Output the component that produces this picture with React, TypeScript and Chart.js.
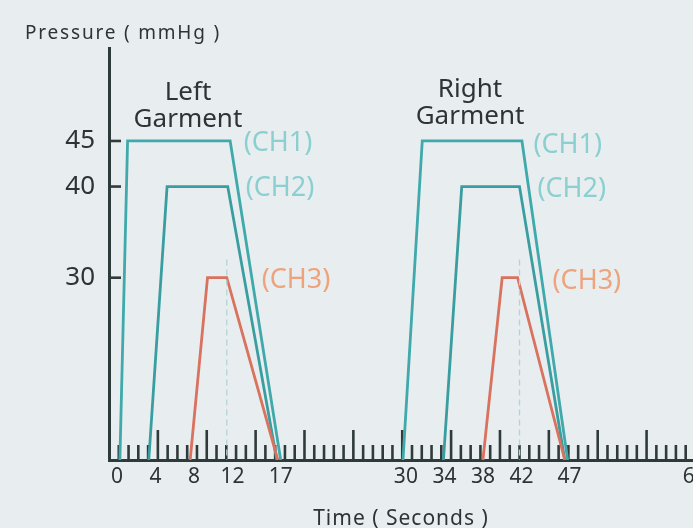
import React, { useEffect, useRef } from 'react';
import { Chart, registerables, LinearScale } from 'chart.js';

// ---- data (seconds / mmHg) ----
const CH1_TIME = [0.3, 1.1, 11.75, 17.0, 23, 29.7, 31.7, 42.05, 46.8];
const CH1_PRESSURE = [0, 45, 45, 0, null, 0, 45, 45, 0];
const CH2_TIME = [3.3, 5.2, 11.5, 16.6, 23, 33.9, 35.8, 41.8, 46.5];
const CH2_PRESSURE = [0, 40, 40, 0, null, 0, 40, 40, 0];
const CH3_TIME = [7.6, 9.4, 11.4, 16.7, 23, 38.0, 40.0, 41.6, 46.5];
const CH3_PRESSURE = [0, 30, 30, 0, null, 0, 30, 30, 0];
const PEAK_TIME = [11.4, 11.4, 23, 41.8, 41.8];
const PEAK_PRESSURE = [32, 0, null, 32, 0];

const X_TICKS = [0, 4, 8, 12, 17, 30, 34, 38, 42, 47, 60];
const Y_TICKS = [30, 40, 45];
const CHANNEL_NAMES = ['(CH1)', '(CH2)', '(CH3)'];
const GARMENT_NAMES = [['Left', 'Garment'], ['Right', 'Garment']];
const X_TITLE = 'Time ( Seconds )';
const Y_TITLE = 'Pressure ( mmHg )';

// ---- layout / style ----
const X_MIN = -0.83;
const X_MAX = 62.1;
const Y_MIN = 10;
const Y_MAX = 55.2;
const RULER_START = -0.83;
const RULER_STEP = 1.015;

const CH_COLORS = ['#3fa9ab', '#3a9da0', '#d9725e'];
const CH_LABEL_COLORS = ['#8ccfd1', '#8ccfd1', '#eea37c'];
const AXIS_COLOR = '#2f3b3b';
const TEXT_COLOR = '#2e3434';
const BG = '#e8eef0';

// label anchors in data units [time, pressure]
const CH_LABEL_POS = [
  [[16.72, 44.7], [16.93, 39.8], [18.59, 29.7]],
  [[46.81, 44.5], [47.23, 39.7], [48.79, 29.6]],
];
const GARMENT_POS = [
  { x: 7.37, y1: 49.5, y2: 46.53 },
  { x: 36.66, y1: 49.82, y2: 46.86 },
];

class ClampedLinearScale extends LinearScale {
  static id = 'clampedLinear';
  static defaults = LinearScale.defaults;
  getPixelForValue(value: any) {
    const v = typeof value === 'number' && value < (this as any).min ? (this as any).min : value;
    return super.getPixelForValue(v);
  }
}

Chart.register(...registerables, ClampedLinearScale as any);

const toPoints = (xs: number[], ys: (number | null)[]) =>
  xs.map((x, i) => ({ x, y: ys[i] }));

const decorPlugin = {
  id: 'decor',
  beforeDatasetsDraw(chart: any) {
    const { ctx, chartArea } = chart;
    const x = chart.scales.x;
    const y = chart.scales.y;
    ctx.save();
    ctx.strokeStyle = AXIS_COLOR;
    ctx.lineWidth = 2.6;
    for (let k = 1; k < 200; k++) {
      const px = x.getPixelForValue(RULER_START + k * RULER_STEP);
      if (px > chartArea.right) break;
      const len = k % 5 === 0 ? 30 : 15;
      ctx.beginPath();
      ctx.moveTo(px, chartArea.bottom);
      ctx.lineTo(px, chartArea.bottom - len);
      ctx.stroke();
    }
    for (const v of Y_TICKS) {
      const py = y.getPixelForValue(v);
      ctx.beginPath();
      ctx.moveTo(chartArea.left, py);
      ctx.lineTo(chartArea.left + 12, py);
      ctx.stroke();
    }
    ctx.restore();
  },
  afterDraw(chart: any) {
    const { ctx, chartArea } = chart;
    const x = chart.scales.x;
    const y = chart.scales.y;
    ctx.save();
    // garment titles
    ctx.fillStyle = TEXT_COLOR;
    ctx.textAlign = 'center';
    ctx.textBaseline = 'alphabetic';
    ctx.font = "26px 'Noto Sans', sans-serif";
    GARMENT_NAMES.forEach((lines, i) => {
      const g = GARMENT_POS[i];
      const px = x.getPixelForValue(g.x);
      ctx.fillText(lines[0], px, y.getPixelForValue(g.y1));
      ctx.fillText(lines[1], px, y.getPixelForValue(g.y2));
    });
    // channel labels
    ctx.textBaseline = 'middle';
    ctx.font = "27px 'Noto Sans', sans-serif";
    CH_LABEL_POS.forEach((group) => {
      group.forEach((p, j) => {
        ctx.fillStyle = CH_LABEL_COLORS[j];
        ctx.fillText(CHANNEL_NAMES[j], x.getPixelForValue(p[0]), y.getPixelForValue(p[1]));
      });
    });
    // axis titles
    ctx.fillStyle = TEXT_COLOR;
    ctx.textBaseline = 'alphabetic';
    ctx.textAlign = 'center';
    ctx.font = "21px 'Noto Sans', sans-serif";
    try { (ctx as any).letterSpacing = '1px'; } catch (e) {}
    ctx.fillText(X_TITLE, (chartArea.left + 693) / 2, 525);
    ctx.textAlign = 'left';
    ctx.font = "19px 'Noto Sans', sans-serif";
    try { (ctx as any).letterSpacing = '1.8px'; } catch (e) {}
    ctx.fillText(Y_TITLE, 25, 39);
    ctx.restore();
  },
};

export default function App() {
  const ref = useRef<HTMLCanvasElement | null>(null);
  useEffect(() => {
    if (!ref.current) return;
    const chart = new Chart(ref.current, {
      type: 'line',
      data: {
        datasets: [
          {
            data: toPoints(PEAK_TIME, PEAK_PRESSURE),
            borderColor: '#b4d3d4',
            borderWidth: 1.3,
            borderDash: [6, 4],
          },
          { data: toPoints(CH3_TIME, CH3_PRESSURE), borderColor: CH_COLORS[2], borderWidth: 2.8 },
          { data: toPoints(CH2_TIME, CH2_PRESSURE), borderColor: CH_COLORS[1], borderWidth: 2.8 },
          { data: toPoints(CH1_TIME, CH1_PRESSURE), borderColor: CH_COLORS[0], borderWidth: 2.8 },
        ] as any,
      },
      options: {
        animation: false,
        responsive: false,
        devicePixelRatio: 1,
        layout: { padding: { top: 48, right: 10, left: 0, bottom: 0 } },
        plugins: { legend: { display: false }, tooltip: { enabled: false } },
        elements: { point: { radius: 0 }, line: { tension: 0 } },
        scales: {
          x: {
            type: 'linear',
            min: X_MIN,
            max: X_MAX,
            grid: { display: false, drawTicks: false },
            border: { display: true, color: AXIS_COLOR, width: 3 },
            ticks: {
              autoSkip: false,
              maxRotation: 0,
              padding: 4,
              color: TEXT_COLOR,
              font: { family: "'Liberation Sans Narrow', 'Noto Sans', sans-serif", size: 21 },
              callback: (v: any) => String(v),
            },
            afterBuildTicks: (s: any) => {
              s.ticks = X_TICKS.map((v) => ({ value: v }));
            },
            afterFit: (s: any) => {
              s.height = 68;
            },
          },
          y: {
            type: 'clampedLinear',
            min: Y_MIN,
            max: Y_MAX,
            grid: { display: false, drawTicks: false },
            border: { display: true, color: AXIS_COLOR, width: 3 },
            ticks: {
              autoSkip: false,
              padding: 14,
              color: TEXT_COLOR,
              font: { family: "'Noto Sans', sans-serif", size: 26 },
              callback: (v: any) => String(v),
            },
            afterBuildTicks: (s: any) => {
              s.ticks = Y_TICKS.map((v) => ({ value: v }));
            },
            afterFit: (s: any) => {
              s.width = 109;
            },
          },
        } as any,
      },
      plugins: [decorPlugin],
    });
    return () => chart.destroy();
  }, []);

  return (
    <div
      style={{
        position: 'fixed',
        left: 0,
        top: 0,
        width: 693,
        height: 528,
        overflow: 'hidden',
        background: BG,
      }}
    >
      <canvas ref={ref} width={725} height={528} style={{ width: 725, height: 528, display: 'block' }} />
    </div>
  );
}
